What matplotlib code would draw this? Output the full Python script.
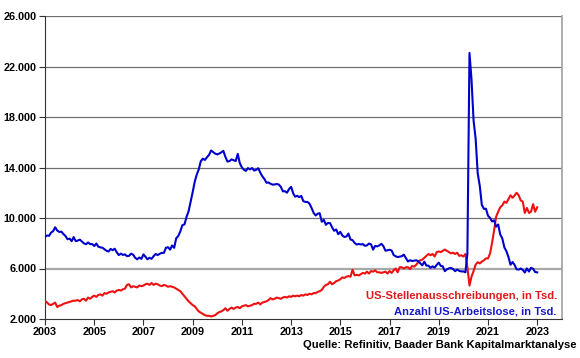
import matplotlib
matplotlib.use("Agg")
import matplotlib.pyplot as plt
import matplotlib.dates as mdates
import matplotlib.ticker as mticker
import pandas as pd

# monthly data Jan 2003 .. Jan 2023, in thousands
arbeitslose = [
    8520, 8618, 8588, 8842, 8957, 9266, 9011, 8896, 8921, 8732, 8576, 8317,   # 2003
    8370, 8167, 8491, 8170, 8212, 8286, 8136, 7990, 7927, 8061, 7932, 7934,   # 2004
    7784, 7980, 7737, 7672, 7651, 7524, 7406, 7345, 7553, 7453, 7566, 7279,   # 2005
    7064, 7184, 7072, 7120, 6980, 7001, 7175, 7091, 6847, 6727, 6872, 6762,   # 2006
    7116, 6927, 6731, 6850, 6766, 6979, 7149, 7067, 7170, 7237, 7240, 7645,   # 2007
    7685, 7497, 7822, 7637, 8395, 8575, 8937, 9438, 9494, 10074, 10538, 11286,  # 2008
    12058, 12898, 13426, 13853, 14499, 14707, 14601, 14814, 15009, 15352, 15219, 15098,  # 2009
    15046, 15113, 15202, 15325, 14849, 14474, 14512, 14648, 14579, 14516, 15081, 14348,  # 2010
    14013, 13820, 13737, 13957, 13855, 13962, 13763, 13818, 13948, 13594, 13302, 13093,  # 2011
    12797, 12813, 12713, 12646, 12660, 12692, 12656, 12471, 12115, 12124, 12005, 12298,  # 2012
    12471, 11950, 11689, 11760, 11654, 11751, 11335, 11279, 11270, 11136, 10787, 10404,  # 2013
    10202, 10349, 10380, 9702, 9859, 9460, 9608, 9599, 9262, 8990, 9090, 8717,   # 2014
    8903, 8610, 8504, 8526, 8771, 8296, 8248, 8029, 7900, 7945, 7904, 7934,   # 2015
    7795, 7834, 7975, 7915, 7497, 7788, 7752, 7827, 7959, 7773, 7410, 7451,   # 2016
    7486, 7424, 7082, 6966, 6908, 6939, 6971, 7097, 6826, 6552, 6657, 6593,   # 2017
    6621, 6650, 6583, 6409, 6248, 6538, 6232, 6226, 6055, 6172, 6071, 6286,   # 2018
    6462, 6201, 6178, 5789, 5932, 6011, 6046, 5960, 5791, 5916, 5808, 5769,   # 2019
    5767, 5699, 7185, 23078, 20985, 17697, 16308, 13542, 12535, 11049, 10728, 10736,  # 2020
    10181, 10007, 9733, 9812, 9317, 9484, 8702, 8383, 7667, 7373, 6901, 6294,   # 2021
    6511, 6268, 5940, 5911, 5996, 5890, 5680, 6003, 5760, 6055, 5982, 5722,   # 2022
    5694,                                                                       # 2023
]

stellen = [
    3450, 3300, 3150, 3100, 3200, 3300, 2950, 3050, 3100, 3200, 3250, 3300,   # 2003
    3350, 3400, 3450, 3450, 3500, 3400, 3550, 3600, 3450, 3700, 3600, 3750,   # 2004
    3850, 3750, 3900, 3950, 3850, 4050, 4000, 4100, 4150, 4200, 4100, 4250,   # 2005
    4300, 4250, 4350, 4400, 4700, 4750, 4500, 4600, 4550, 4500, 4650, 4600,   # 2006
    4650, 4750, 4800, 4700, 4850, 4700, 4800, 4750, 4650, 4600, 4700, 4650,   # 2007
    4550, 4600, 4550, 4500, 4400, 4300, 4200, 4000, 3800, 3600, 3400, 3250,   # 2008
    3100, 3000, 2800, 2600, 2500, 2400, 2300, 2250, 2250, 2200, 2250, 2300,   # 2009
    2450, 2550, 2600, 2700, 2850, 2650, 2800, 2900, 2800, 2900, 2950, 2850,   # 2010
    3000, 3050, 3100, 3000, 3050, 3100, 3200, 3200, 3300, 3150, 3300, 3350,   # 2011
    3400, 3500, 3650, 3550, 3600, 3700, 3650, 3600, 3700, 3750, 3700, 3800,   # 2012
    3750, 3850, 3800, 3850, 3800, 3900, 3850, 3950, 3900, 4000, 3950, 4050,   # 2013
    4050, 4150, 4200, 4300, 4550, 4700, 4750, 4950, 4750, 4850, 5000, 5050,   # 2014
    5150, 5300, 5250, 5350, 5400, 5350, 5900, 5450, 5500, 5450, 5550, 5650,   # 2015
    5600, 5750, 5600, 5800, 5750, 5850, 5700, 5700, 5650, 5700, 5750, 5600,   # 2016
    5800, 5650, 5850, 6000, 5700, 6100, 6100, 6000, 6100, 6100, 5950, 6200,   # 2017
    6150, 6300, 6500, 6650, 6700, 6850, 7000, 7150, 7050, 7150, 6950, 7300,   # 2018
    7350, 7300, 7400, 7500, 7400, 7300, 7200, 7250, 7150, 7250, 7000, 7050,   # 2019
    6950, 7150, 6100, 4650, 5350, 5800, 6300, 6500, 6400, 6550, 6650, 6800,   # 2020
    6800, 7200, 8000, 9000, 10100, 10500, 10850, 11000, 11300, 11200, 11500, 11800,  # 2021
    11600, 11800, 12000, 11800, 11400, 11300, 10400, 10800, 10400, 10500, 11100, 10500,  # 2022
    10850,                                                                      # 2023
]

dates = pd.date_range("2003-01-01", periods=len(arbeitslose), freq="MS")
year_ticks = list(range(2003, 2024, 2))
y_ticks = [2000, 6000, 10000, 14000, 18000, 22000, 26000]

plt.rcParams['font.family'] = ['Liberation Sans', 'DejaVu Sans']

fig = plt.figure(figsize=(5.8, 3.58), dpi=100)
ax = fig.add_axes([0.0776, 0.109, 0.891, 0.846])

for v in y_ticks[1:]:
    if v == 6000:
        ax.axhline(v, color='#a8a8a8', lw=1.6, zorder=1)
    else:
        ax.axhline(v, color='#707070', lw=0.9, zorder=1)

ax.plot(dates, stellen, color='#ee1111', lw=1.5, zorder=3)
ax.plot(dates, arbeitslose, color='#0000cc', lw=1.5, zorder=4)

ax.set_xlim(pd.Timestamp("2003-01-01"), pd.Timestamp("2024-01-01"))
ax.set_ylim(2000, 26000)
ax.set_xticks([pd.Timestamp(f"{y}-01-01") for y in year_ticks])
ax.xaxis.set_major_formatter(mdates.DateFormatter("%Y"))
ax.set_yticks(y_ticks)
ax.yaxis.set_major_formatter(mticker.FuncFormatter(lambda v, p: f"{int(v):,}".replace(",", ".")))

ax.tick_params(axis='both', direction='out', length=4, width=0.8, color='#333333',
               labelsize=7.8, pad=2)
for lab in ax.get_xticklabels() + ax.get_yticklabels():
    lab.set_fontweight('bold')

ax.spines['top'].set_visible(False)
ax.spines['right'].set_color('#a0a0a0')
ax.spines['right'].set_linewidth(1.2)
ax.spines['left'].set_color('#333333')
ax.spines['bottom'].set_color('#333333')

fig.text(0.960, 0.173, "US-Stellenausschreibungen, in Tsd.", color='#e01a1a',
         ha='right', va='center', fontsize=8.1, fontweight='bold')
fig.text(0.960, 0.129, "Anzahl US-Arbeitslose, in Tsd.", color='#1a1acc',
         ha='right', va='center', fontsize=8.1, fontweight='bold')
fig.text(0.994, 0.036, "Quelle: Refinitiv, Baader Bank Kapitalmarktanalyse", color='black',
         ha='right', va='center', fontsize=8.1, fontweight='bold')

fig.savefig("out.png", dpi=100)
